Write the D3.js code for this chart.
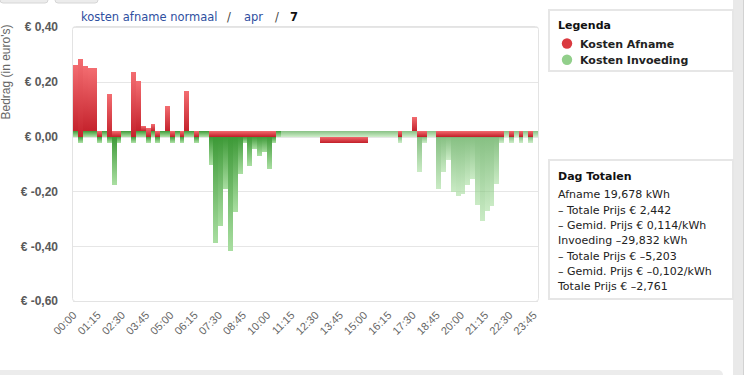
<!DOCTYPE html>
<html>
<head>
<meta charset="utf-8">
<script src="https://cdn.jsdelivr.net/npm/d3@7"></script>
<style>
  html, body { margin: 0; padding: 0; background: #fff; }
  svg { display: block; }
</style>
</head>
<body>
<svg id="chart" width="751" height="375"></svg>
<script>
// kwartier-waarden (96 per dag)
const afname = [
  0.242, 0.283, 0.237, 0.230, 0.230, 0.021, 0, 0.156,
  0.021, 0.021, 0, 0, 0.236, 0.182, 0.018, 0.032,
  0.025, 0.021, 0, 0.091, 0.021, 0, 0.021, 0.146,
  0, 0.021, 0, 0, 0.021, 0.021, 0.021, 0.021,
  0.021, 0.021, 0.021, 0.021, 0.021, 0.021, 0.021, 0.021,
  0.021, 0.021, 0, 0, 0, 0, 0, 0,
  0, 0, 0, -0.022, -0.022, -0.022, -0.022, -0.022,
  -0.022, -0.022, -0.022, -0.022, -0.022, 0, 0, 0,
  0, 0, 0, 0.021, 0, 0, 0.051, 0.021,
  0.021, 0, 0, 0.021, 0.021, 0.021, 0.021, 0.021,
  0.021, 0.021, 0.021, 0.021, 0.021, 0.021, 0.021, 0.021,
  0.021, 0, 0.021, 0, 0.021, 0, 0.021, 0
];
const invoeding = [
  0.021, -0.022, 0.021, 0.021, 0.021, -0.022, 0.021, -0.022,
  -0.175, -0.022, 0.021, 0.021, -0.022, 0.021, 0.021, -0.022,
  0.021, -0.022, 0.021, 0.021, -0.022, 0.021, -0.022, 0.021,
  0.021, -0.022, 0.021, 0.021, -0.102, -0.387, -0.325, -0.193,
  -0.416, -0.274, -0.135, -0.022, -0.106, -0.044, -0.069, -0.058,
  -0.117, -0.022, 0.021, 0.021, 0.021, 0.021, 0.021, 0.021,
  0.021, 0.021, 0.021, 0.021, 0.021, 0.021, 0.021, 0.021,
  0.021, 0.021, 0.021, 0.021, 0.021, 0.021, 0.021, 0.021,
  0.021, 0.021, 0.021, -0.022, 0.021, 0.021, 0.021, -0.128,
  -0.022, 0.021, 0.021, -0.193, -0.131, -0.084, -0.204, -0.215,
  -0.208, -0.175, -0.153, -0.248, -0.307, -0.270, -0.252, -0.172,
  -0.022, 0.021, -0.022, 0.021, -0.022, 0.021, -0.022, 0.021
];
const tickLabels = [
  "00:00", "01:15", "02:30", "03:45", "05:00", "06:15", "07:30", "08:45", "10:00", "11:15",
  "12:30", "13:45", "15:00", "16:15", "17:30", "18:45", "20:00", "21:15", "22:30", "23:45"
];
const yTicks = [-0.6, -0.4, -0.2, 0, 0.2, 0.4];
const seriesNames = ["Kosten Afname", "Kosten Invoeding"];
const totalsLines = [
  "Afname 19,678 kWh",
  "– Totale Prijs € 2,442",
  "– Gemid. Prijs € 0,114/kWh",
  "Invoeding –29,832 kWh",
  "– Totale Prijs € –5,203",
  "– Gemid. Prijs € –0,102/kWh",
  "Totale Prijs € –2,761"
];

const pad2 = d3.format("02");
const times = d3.range(96).map((i) => pad2(Math.floor(i / 4)) + ":" + pad2((i % 4) * 15));
const data = times.map((t, i) => ({ time: t, afname: afname[i], invoeding: invoeding[i] }));

const nl = d3.formatLocale({ decimal: ",", thousands: ".", grouping: [3], currency: ["€ ", ""], minus: "-" });
const fmt = nl.format(".2f");

const svg = d3.select("#chart");
const W = 751, H = 375;
const plot = { left: 73, right: 538, top: 27, bottom: 301 };

// page chrome
const defs = svg.append("defs");
const grad = (id, c1, c2) => {
  const g = defs.append("linearGradient").attr("id", id)
    .attr("x1", 0).attr("y1", 0).attr("x2", 0).attr("y2", 1);
  g.append("stop").attr("offset", "0%").attr("stop-color", c1);
  g.append("stop").attr("offset", "100%").attr("stop-color", c2);
};
grad("gRed", "#f36d71", "#c5232d");
grad("gGreen", "#3c9936", "#a9dea1");

svg.append("rect").attr("x", 0).attr("y", -6).attr("width", 48).attr("height", 9)
  .attr("rx", 3).attr("fill", "#ececec").attr("stroke", "#d6d6d6");
svg.append("rect").attr("x", 55).attr("y", -6).attr("width", 43).attr("height", 9)
  .attr("rx", 3).attr("fill", "#ececec").attr("stroke", "#d6d6d6");

svg.append("rect").attr("x", 733).attr("y", 0).attr("width", 10).attr("height", H)
  .attr("fill", "#e9e9e9");
svg.append("line").attr("x1", 743.5).attr("x2", 743.5).attr("y1", 0).attr("y2", H)
  .attr("stroke", "#d2d2d2");
svg.append("rect").attr("x", -6).attr("y", 370).attr("width", 729).attr("height", 12)
  .attr("rx", 5).attr("fill", "#ececec");

// breadcrumb
const crumb = svg.append("text").attr("y", 20.5)
  .style("font-family", "'DejaVu Sans', sans-serif").style("font-size", "11.5px");
crumb.append("tspan").attr("x", 81).attr("fill", "#2f4f9f").text("kosten afname normaal");
crumb.append("tspan").attr("x", 227).attr("fill", "#444").text("/");
crumb.append("tspan").attr("x", 244).attr("fill", "#2f4f9f").text("apr");
crumb.append("tspan").attr("x", 275).attr("fill", "#444").text("/");
crumb.append("tspan").attr("x", 290).attr("fill", "#111").attr("font-weight", "bold").text("7");

// scales
const x = d3.scaleBand().domain(times).range([plot.left, plot.right]).padding(0);
const y = d3.scaleLinear().domain([-0.6, 0.4]).range([plot.bottom, plot.top]);

// grid
svg.append("g").selectAll("line").data(yTicks).join("line")
  .attr("x1", plot.left).attr("x2", plot.right)
  .attr("y1", (d) => Math.round(y(d)) + 0.5).attr("y2", (d) => Math.round(y(d)) + 0.5)
  .attr("stroke", "#e6e6e6");
svg.append("rect").attr("x", plot.left - 0.5).attr("y", plot.top - 0.5)
  .attr("width", plot.right - plot.left + 1).attr("height", plot.bottom - plot.top + 1)
  .attr("rx", 3).attr("fill", "none").attr("stroke", "#e3e3e3");

// stacked bars
const stack = d3.stack().keys(["invoeding", "afname"]).offset(d3.stackOffsetDiverging);
const series = stack(data);
svg.append("g").selectAll("g").data(series).join("g")
  .attr("fill", (s) => (s.key === "afname" ? "url(#gRed)" : "url(#gGreen)"))
  .each(function (s) {
    d3.select(this).selectAll("rect").data(s.filter((d) => d[0] !== d[1])).join("rect")
      .attr("x", (d) => x(d.data.time))
      .attr("width", x.bandwidth())
      .attr("y", (d) => y(Math.max(d[0], d[1])))
      .attr("height", (d) => Math.abs(y(d[0]) - y(d[1])))
      .attr("fill-opacity", (d) => (s.key === "invoeding" && times.indexOf(d.data.time) >= 43 ? 0.62 : 1))
      .attr("shape-rendering", "crispEdges");
  });

// axes
const yAxis = svg.append("g").attr("transform", `translate(${plot.left},0)`)
  .call(d3.axisLeft(y).tickValues(yTicks).tickSize(0).tickPadding(15).tickFormat((d) => "€ " + fmt(d)));
yAxis.select(".domain").remove();
yAxis.selectAll("text")
  .style("font-family", "'Liberation Sans', Arial, sans-serif").style("font-size", "12px")
  .style("font-weight", "bold").attr("fill", "#5a5a5a");

const xAxis = svg.append("g").attr("transform", `translate(0,${plot.bottom})`)
  .call(d3.axisBottom(x).tickValues(tickLabels).tickSize(0));
xAxis.select(".domain").remove();
xAxis.selectAll("text")
  .attr("x", 0).attr("y", 0).attr("dy", 0)
  .attr("transform", "translate(2,15) rotate(-45)")
  .attr("text-anchor", "end")
  .style("font-family", "'Liberation Sans', Arial, sans-serif").style("font-size", "11px")
  .attr("fill", "#666");

svg.append("text").attr("transform", "translate(9.5,72) rotate(-90)")
  .attr("text-anchor", "middle")
  .style("font-family", "'Liberation Sans', Arial, sans-serif").style("font-size", "12px")
  .attr("fill", "#666").text("Bedrag (in euro's)");

// legend box
const font = "'DejaVu Sans', sans-serif";
svg.append("rect").attr("x", 549).attr("y", 10).attr("width", 184).attr("height", 61)
  .attr("fill", "#fff").attr("stroke", "#e6e6e6").attr("stroke-width", 2);
svg.append("text").attr("x", 558).attr("y", 29).style("font-family", font).style("font-size", "11px")
  .style("font-weight", "bold").attr("fill", "#111").text("Legenda");
const legendColors = ["#da3a40", "#92cf8b"];
const leg = svg.append("g").selectAll("g").data(seriesNames).join("g")
  .attr("transform", (d, i) => `translate(0,${43.5 + i * 16.3})`);
leg.append("circle").attr("cx", 567).attr("cy", 0).attr("r", 5.2).attr("fill", (d, i) => legendColors[i]);
leg.append("text").attr("x", 580).attr("y", 4).style("font-family", font).style("font-size", "11px")
  .style("font-weight", "bold").attr("fill", "#222").text((d) => d);

// totals box
svg.append("rect").attr("x", 549).attr("y", 160).attr("width", 184).attr("height", 139)
  .attr("fill", "#fff").attr("stroke", "#e6e6e6").attr("stroke-width", 2);
svg.append("text").attr("x", 558).attr("y", 180).style("font-family", font).style("font-size", "11px")
  .style("font-weight", "bold").attr("fill", "#111").text("Dag Totalen");
svg.append("g").selectAll("text").data(totalsLines).join("text")
  .attr("x", 558).attr("y", (d, i) => 198.3 + i * 15.3)
  .style("font-family", font).style("font-size", "11px").attr("fill", "#222")
  .text((d) => d);
</script>
</body>
</html>
